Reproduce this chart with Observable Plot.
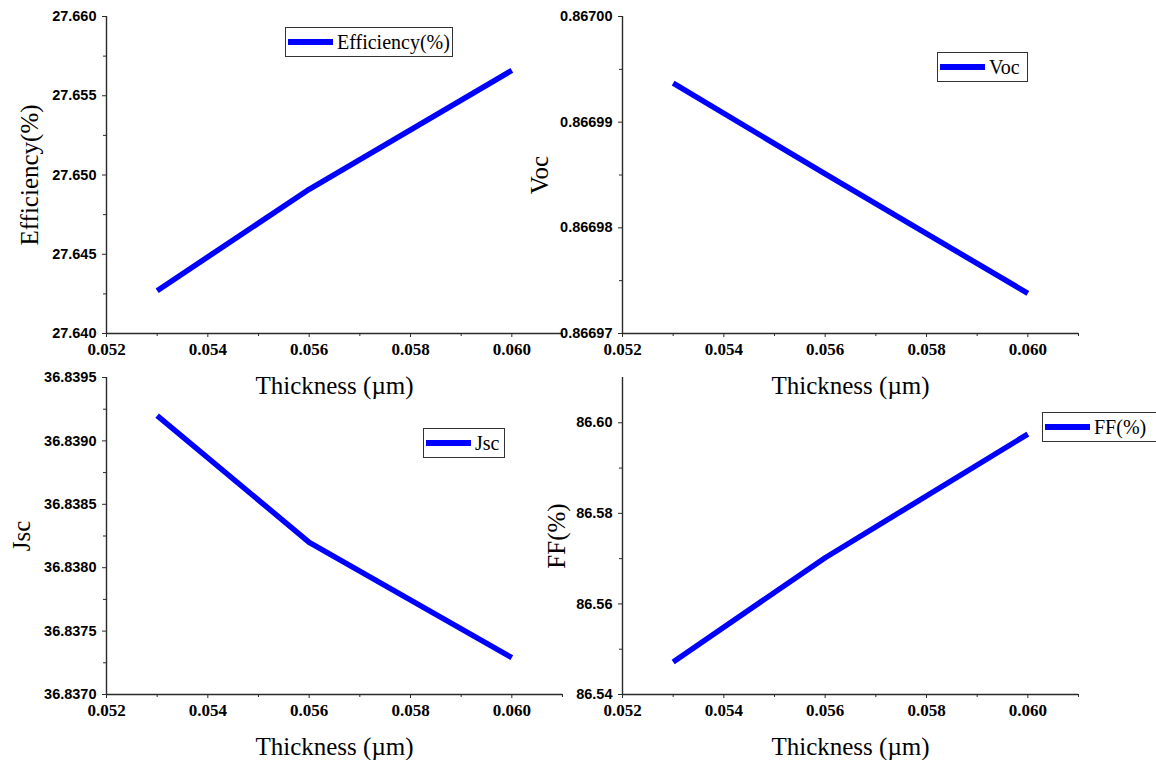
<!DOCTYPE html>
<html><head><meta charset="utf-8">
<script src="https://cdn.jsdelivr.net/npm/d3@7"></script>
<script src="https://cdn.jsdelivr.net/npm/@observablehq/plot@0.6"></script>
<style>
body{margin:0;background:#fff;}
#wrap{position:relative;width:1156px;height:760px;overflow:hidden;background:#fff;}
.panel{position:absolute;}
.panel svg{overflow:visible;background:transparent;}
.legend{position:absolute;border:1.3px solid #333;background:#fff;box-sizing:border-box;display:flex;align-items:center;font-family:"Liberation Serif","Times New Roman",serif;font-size:20px;color:#000;white-space:nowrap;}
.legend .swatch{display:inline-block;height:6px;background:#0000ff;margin-left:2px;margin-right:4px;}
</style></head><body><div id="wrap"></div>
<script>
// ---- data ----
const thickness = [0.053, 0.056, 0.060];
const efficiency = [27.6427, 27.6491, 27.6566];
const voc = [0.8669937, 0.8669851, 0.8669738];
const jsc = [36.83920, 36.83820, 36.83729];
const ff = [86.5472, 86.5702, 86.5975];

// ---- tick labels ----
const xMajorTicks = [0.052, 0.054, 0.056, 0.058, 0.060];
const xMinorTicks = [0.053, 0.055, 0.057, 0.059, 0.061];
const effTicks = [27.640, 27.645, 27.650, 27.655, 27.660];
const effMinor = [27.6425, 27.6475, 27.6525, 27.6575];
const vocTicks = [0.86697, 0.86698, 0.86699, 0.86700];
const vocMinor = [0.866975, 0.866985, 0.866995];
const jscTicks = [36.8370, 36.8375, 36.8380, 36.8385, 36.8390, 36.8395];
const jscMinor = [36.83725, 36.83775, 36.83825, 36.83875, 36.83925];
const ffTicks = [86.54, 86.56, 86.58, 86.60];
const ffMinor = [86.55, 86.57, 86.59];

const xTitle = "Thickness (\u00b5m)";
const wrap = document.getElementById("wrap");
const serif = '"Liberation Serif", "Times New Roman", serif';
const sans = '"Liberation Sans", Arial, sans-serif';

function panel(o) {
  const data = thickness.map((t, i) => ({t, v: o.values[i]}));
  const W = o.width, H = 400;
  const plotW = 456, plotH = 317;
  const axisColor = "#2a2a2a";
  const chart = Plot.plot({
    width: W, height: H,
    marginLeft: o.marginLeft, marginRight: W - o.marginLeft - plotW,
    marginTop: o.marginTop, marginBottom: H - o.marginTop - plotH,
    style: {background: "transparent", overflow: "visible", color: axisColor},
    x: {domain: [0.052, 0.061]},
    y: {domain: o.yDomain},
    marks: [
      Plot.ruleY([o.yDomain[0]], {stroke: axisColor, strokeWidth: 1.4}),
      Plot.ruleX([0.052], {stroke: axisColor, strokeWidth: 1.4}),
      Plot.axisX({ticks: xMajorTicks, tickSize: 4, tickPadding: 5, tickFormat: d3.format(".3f"),
        fill: "#000", label: null}),
      Plot.axisX({ticks: xMinorTicks, tickSize: 3, tickFormat: () => "", label: null}),
      Plot.axisY({ticks: o.yTicks, tickSize: 4, tickPadding: 6, tickFormat: o.yFormat,
        fill: "#000", label: o.yLabel, labelAnchor: "center", labelArrow: "none", labelOffset: o.yLabelOffset}),
      Plot.axisY({ticks: o.yMinor, tickSize: 3, tickFormat: () => "", label: null}),
      Plot.line(data, {x: "t", y: "v", stroke: "#0000ff", strokeWidth: 5.5, strokeLinecap: "butt", strokeLinejoin: "round"}),
      Plot.text([xTitle], {text: d => d, frameAnchor: "bottom", dy: 52, lineAnchor: "middle",
        fontFamily: "Liberation Serif", fontSize: 25, fill: "#000"})
    ]
  });
  const svg = d3.select(chart);
  svg.selectAll("g").each(function() {
    const lab = this.getAttribute("aria-label") || "";
    const g = d3.select(this);
    if (lab.includes("x-axis") && lab.includes("tick label")) {
      g.selectAll("text").style("font-family", serif).style("font-weight", "bold").style("font-size", "17px");
    } else if (lab.includes("y-axis") && lab.includes("tick label")) {
      g.selectAll("text").style("font-family", sans).style("font-weight", "bold").style("font-size", "14.5px");
    } else if (lab.includes("y-axis") && lab.includes("label")) {
      g.selectAll("text").style("font-family", serif).style("font-weight", "normal").style("font-size", "25px");
    }
  });
  const div = document.createElement("div");
  div.className = "panel";
  div.style.left = o.left + "px";
  div.style.top = o.top + "px";
  div.appendChild(chart);
  wrap.appendChild(div);

  const lg = document.createElement("div");
  lg.className = "legend";
  lg.style.left = o.legend.x + "px";
  lg.style.top = o.legend.y + "px";
  lg.style.width = o.legend.w + "px";
  lg.style.height = "30px";
  const sw = document.createElement("span");
  sw.className = "swatch";
  sw.style.width = "45px";
  lg.appendChild(sw);
  const tx = document.createElement("span");
  tx.textContent = o.yLabel;
  lg.appendChild(tx);
  wrap.appendChild(lg);
}

panel({values: efficiency, yDomain: [27.640, 27.660], yTicks: effTicks, yMinor: effMinor,
  yFormat: d3.format(".3f"), yLabel: "Efficiency(%)", yLabelOffset: 86,
  left: 0, top: 0, width: 578, marginLeft: 106, marginTop: 16,
  legend: {x: 285, y: 27, w: 168}});
panel({values: voc, yDomain: [0.86697, 0.86700], yTicks: vocTicks, yMinor: vocMinor,
  yFormat: d3.format(".5f"), yLabel: "Voc", yLabelOffset: 92,
  left: 520, top: 0, width: 636, marginLeft: 102, marginTop: 16,
  legend: {x: 937, y: 52, w: 91}});
panel({values: jsc, yDomain: [36.8370, 36.8395], yTicks: jscTicks, yMinor: jscMinor,
  yFormat: d3.format(".4f"), yLabel: "Jsc", yLabelOffset: 94,
  left: 0, top: 360, width: 578, marginLeft: 106, marginTop: 17,
  legend: {x: 423, y: 428, w: 82}});
panel({values: ff, yDomain: [86.54, 86.61], yTicks: ffTicks, yMinor: ffMinor,
  yFormat: d3.format(".2f"), yLabel: "FF(%)", yLabelOffset: 75,
  left: 520, top: 360, width: 636, marginLeft: 102, marginTop: 17,
  legend: {x: 1042, y: 412, w: 115}});
</script></body></html>
